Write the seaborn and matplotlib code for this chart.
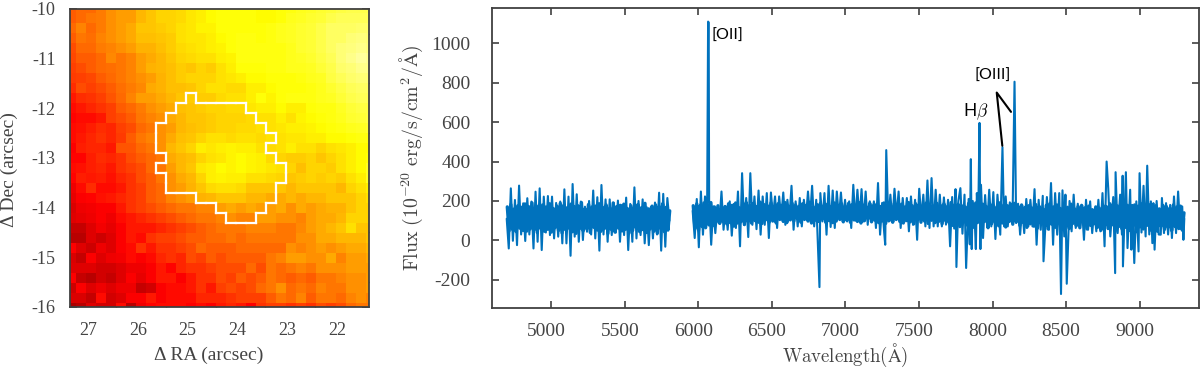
import numpy as np
import pandas as pd
import matplotlib
matplotlib.use('Agg')
import matplotlib.pyplot as plt
import matplotlib.transforms as mtrans
import seaborn as sns

sns.set_style('white')
plt.rcParams['font.family'] = ['Liberation Serif', 'DejaVu Serif']
plt.rcParams['mathtext.fontset'] = 'cm'
plt.rcParams['axes.unicode_minus'] = False

# image values read by eye from the colours (hot colormap, 0-100)
image_rows = [
    [50,52,52,55,58,60,60,64,66,68,68,69,71,72,74,75,75,75,75,74,74,75,76,77,78,79,80,81,82,82,82],
    [50,52,54,55,58,60,60,64,66,68,68,69,71,72,74,75,75,75,75,74,74,75,77,78,79,80,82,83,83,83,83],
    [52,56,52,55,58,60,62,66,66,67,68,70,71,73,73,75,75,75,75,75,76,77,78,79,80,82,84,84,84,85,85],
    [50,54,53,56,58,60,62,65,65,66,67,70,71,71,72,74,75,76,76,75,76,77,78,79,80,82,84,84,86,87,86],
    [48,52,52,55,56,58,60,63,63,65,67,69,70,71,72,73,75,76,76,76,76,76,77,79,80,82,84,86,87,88,87],
    [47,50,50,52,57,54,56,60,62,64,66,68,69,70,70,72,73,76,76,76,76,76,77,78,79,81,83,86,88,90,89],
    [46,48,50,52,53,54,56,60,63,64,65,67,66,68,67,70,72,75,75,75,76,76,77,77,78,80,82,85,86,88,88],
    [45,46,47,50,52,54,56,58,60,63,65,67,68,68,68,70,71,72,74,74,75,75,75,76,77,78,81,83,85,86,86],
    [43,48,46,48,50,53,55,57,62,63,65,65,66,68,70,70,69,69,72,72,74,75,75,75,76,77,79,81,83,84,84],
    [40,43,44,46,49,52,56,60,60,62,64,66,67,67,67,69,70,70,72,75,73,75,76,76,76,77,78,80,82,83,83],
    [38,40,42,44,46,50,52,55,58,60,62,65,66,67,68,68,69,69,71,72,72,74,72,72,75,76,76,78,80,81,81],
    [37,38,38,40,46,48,50,54,56,58,62,64,66,66,67,68,68,68,69,70,70,72,70,73,74,75,76,77,79,80,81],
    [38,39,41,43,42,46,48,52,54,58,60,64,65,66,67,68,68,69,69,70,70,71,72,72,73,74,75,76,77,78,79],
    [38,40,42,44,42,45,50,54,56,58,62,65,66,68,70,70,69,70,70,69,70,70,71,71,72,72,74,74,75,76,76],
    [36,41,42,42,40,49,49,52,54,58,64,66,68,72,71,72,73,72,72,70,69,70,72,70,70,68,70,71,72,74,74],
    [37,37,41,43,42,44,48,50,52,54,62,64,65,68,70,71,73,74,73,72,69,68,67,67,68,66,68,70,72,74,75],
    [38,39,41,42,40,44,46,48,52,54,60,64,66,71,72,74,73,74,73,72,71,70,68,65,68,68,67,70,72,74,78],
    [37,41,40,41,39,42,44,48,50,54,58,62,64,68,72,73,72,72,70,70,69,68,66,67,68,67,68,67,70,72,78],
    [34,38,43,38,38,40,44,46,50,52,58,60,63,66,69,70,70,69,66,66,66,66,64,66,66,66,66,64,68,70,72],
    [33,36,37,39,40,42,44,46,50,52,56,58,60,63,64,66,66,66,64,64,62,62,64,62,64,64,66,66,66,68,70],
    [31,34,35,36,36,40,44,46,48,50,52,54,54,56,56,60,62,60,62,60,60,62,58,62,60,62,63,63,66,68,68],
    [32,33,34,36,34,38,40,42,44,46,48,50,52,54,54,56,58,56,56,60,60,58,58,56,60,62,62,64,68,68,68],
    [28,28,32,35,33,36,40,40,40,42,44,46,48,50,52,54,54,54,56,56,56,54,54,57,60,62,64,66,70,66,66],
    [26,26,32,29,32,36,40,38,44,46,46,48,50,50,52,52,54,52,54,54,54,54,54,58,58,62,62,64,64,64,66],
    [36,32,29,34,32,36,38,44,40,44,44,46,48,52,50,50,50,52,52,52,52,52,58,56,58,60,58,60,62,62,64],
    [31,28,36,32,34,35,38,36,38,42,44,42,48,46,50,48,50,50,50,50,54,56,60,60,58,58,62,56,60,60,62],
    [32,32,32,30,30,32,34,34,36,40,37,42,44,44,46,48,48,48,52,48,54,52,54,56,54,58,58,58,60,60,60],
    [36,28,26,30,28,32,36,33,36,40,40,36,40,44,44,48,46,50,48,50,54,52,50,52,50,54,54,56,58,58,60],
    [29,36,32,34,32,34,34,28,30,36,38,38,40,44,40,46,48,46,48,52,54,58,52,54,52,56,54,54,58,58,60],
    [31,31,28,38,30,32,36,36,40,36,38,38,38,42,42,42,44,46,46,46,50,54,52,56,50,54,54,52,56,58,56],
    [24,26,32,30,30,38,26,34,37,38,38,38,36,38,36,40,42,40,36,44,46,46,44,46,44,48,46,48,52,54,54],
]

# extraction region: row -> (first column, last column + 1)
region_spans = {9: (12, 13), 10: (11, 18), 11: (10, 19), 12: (9, 20), 13: (9, 21),
                14: (9, 20), 15: (10, 21), 16: (9, 22), 17: (10, 22), 18: (10, 21),
                19: (13, 21), 20: (15, 20), 21: (16, 19)}

ra_ticks = [27, 26, 25, 24, 23, 22]
dec_ticks = [-10, -11, -12, -13, -14, -15, -16]

# spectrum peaks and dips, blue side of the gap
wave_blue = [
    4697,4711,4725,4739,4753,4767,4781,4795,4809,4823,
    4837,4851,4865,4879,4893,4907,4921,4935,4949,4963,
    4977,4991,5005,5019,5033,5047,5061,5075,5089,5103,
    5117,5131,5145,5159,5173,5187,5201,5215,5229,5243,
    5257,5271,5285,5299,5313,5327,5341,5355,5369,5383,
    5397,5411,5425,5439,5453,5467,5481,5495,5509,5523,
    5537,5551,5565,5579,5593,5607,5621,5635,5649,5663,
    5677,5691,5705,5719,5733,5747,5761,5775,5789,5803,
]
flux_blue = [
    110,-41,264,-2,205,-24,278,30,188,-3,
    214,30,197,-41,247,-7,264,-49,222,40,
    225,27,222,10,190,19,197,-15,259,-15,
    222,-78,286,19,234,-7,197,2,171,44,
    200,30,253,10,219,-52,281,30,208,-7,
    208,27,190,40,202,-7,180,27,217,-49,
    185,-7,269,10,200,27,208,-15,168,-24,
    170,10,192,30,242,-52,236,-32,215,100,
]

# spectrum peaks and dips, red side of the gap
wave_red = [
    5961,5975,5989,6003,6017,6031,6045,6059,6066,6070,
    6073,6087,6101,6115,6129,6143,6157,6171,6185,6199,
    6213,6227,6241,6255,6269,6283,6297,6311,6325,6339,
    6353,6367,6381,6395,6409,6423,6437,6451,6465,6479,
    6493,6507,6521,6535,6549,6563,6577,6591,6605,6619,
    6633,6647,6661,6675,6689,6703,6717,6731,6745,6759,
    6773,6787,6801,6823,6829,6843,6857,6871,6885,6899,
    6913,6927,6941,6955,6969,6983,6997,7011,7025,7039,
    7053,7067,7081,7095,7109,7123,7137,7151,7165,7179,
    7193,7207,7221,7235,7249,7263,7270,7277,7291,7305,
    7319,7333,7347,7361,7375,7389,7403,7417,7431,7445,
    7459,7473,7487,7501,7515,7529,7543,7557,7571,7585,
    7599,7613,7627,7641,7655,7669,7683,7697,7711,7725,
    7739,7748,7754,7767,7781,7795,7809,7820,7837,7845,
    7852,7858,7865,7879,7886,7893,7902,7911,7917,7921,
    7935,7949,7963,7977,7991,8005,8019,8033,8052,8067,
    8078,8089,8103,8117,8135,8149,8160,8173,8187,8201,
    8215,8229,8243,8257,8271,8285,8299,8313,8327,8341,
    8346,8369,8383,8397,8411,8425,8439,8453,8465,8475,
    8487,8495,8504,8523,8537,8551,8565,8579,8593,8607,
    8621,8635,8649,8663,8677,8691,8705,8719,8733,8747,
    8761,8775,8786,8800,8820,8833,8836,8850,8867,8879,
    8884,8886,8906,8917,8935,8943,8950,8963,8977,8992,
    8999,9012,9026,9040,9051,9065,9076,9086,9093,9101,
    9115,9129,9143,9151,9165,9179,9193,9207,9219,9233,
    9247,9261,9275,9289,9297,9303,
]
flux_red = [
    150,12,210,-35,248,29,223,96,1110,1105,
    206,-22,172,37,164,88,248,54,172,54,
    198,24,185,63,248,-30,341,79,215,17,
    341,79,223,57,253,29,223,79,240,12,
    243,122,223,63,223,113,243,79,206,113,
    277,54,198,71,215,71,206,113,248,113,
    277,71,206,-237,240,96,240,29,277,68,
    253,63,248,113,243,105,206,96,198,63,
    282,100,257,100,260,96,248,79,198,130,
    198,63,291,29,190,40,-22,458,96,232,
    96,262,120,248,63,215,96,215,46,223,
    79,206,3,262,113,232,71,304,63,316,
    71,257,71,232,71,218,80,206,-30,220,
    60,260,-135,200,265,34,232,-140,210,-20,
    412,-44,200,90,-44,240,100,596,-44,282,
    12,230,71,257,71,245,7,232,29,473,
    71,223,71,193,88,805,88,186,29,169,
    37,210,71,206,71,260,-22,206,54,226,
    -106,220,54,291,-22,240,29,240,-272,254,
    20,232,-220,200,46,232,63,186,63,172,
    3,206,54,198,37,155,46,206,46,240,
    -30,400,265,20,220,-166,346,37,232,30,
    328,-132,346,-39,257,-47,180,-115,198,-56,
    341,40,277,20,379,30,198,-14,189,-47,
    200,30,29,215,37,189,30,180,12,223,
    37,248,60,172,3,110,
]

# solid core of the band, read as top and bottom of the filled part
core_wave_blue = [
    4701,4713,4725,4737,4749,4761,4773,4785,4797,4809,
    4821,4833,4845,4857,4869,4881,4893,4905,4917,4929,
    4941,4953,4965,4977,4989,5001,5013,5025,5037,5049,
    5061,5073,5085,5097,5109,5121,5133,5145,5157,5169,
    5181,5193,5205,5217,5229,5241,5253,5265,5277,5289,
    5301,5313,5325,5337,5349,5361,5373,5385,5397,5409,
    5421,5433,5445,5457,5469,5481,5493,5505,5517,5529,
    5541,5553,5565,5577,5589,5601,5613,5625,5637,5649,
    5661,5673,5685,5697,5709,5721,5733,5745,5757,5769,
    5781,5793,5805,
]
core_flux_blue = [
    170,48,182,55,160,44,176,62,168,50,
    185,47,172,58,190,52,165,40,178,60,
    180,46,170,56,186,42,162,64,175,50,
    188,38,178,54,166,62,184,44,172,36,
    176,60,192,48,160,58,182,40,170,66,
    174,52,186,46,168,60,180,35,164,55,
    190,42,172,62,178,48,184,56,162,38,
    176,50,170,64,182,44,166,54,188,40,
    160,58,174,46,180,36,172,60,186,44,
    168,52,150,
]
core_wave_red = [
    5965,5977,5989,6001,6013,6025,6037,6049,6061,6073,
    6085,6097,6109,6121,6133,6145,6157,6169,6181,6193,
    6205,6217,6229,6241,6253,6265,6277,6289,6301,6313,
    6325,6337,6349,6361,6373,6385,6397,6409,6421,6433,
    6445,6457,6469,6481,6493,6505,6517,6529,6541,6553,
    6565,6577,6589,6601,6613,6625,6637,6649,6661,6673,
    6685,6697,6709,6721,6733,6745,6757,6769,6781,6793,
    6805,6817,6829,6841,6853,6865,6877,6889,6901,6913,
    6925,6937,6949,6961,6973,6985,6997,7009,7021,7033,
    7045,7057,7069,7081,7093,7105,7117,7129,7141,7153,
    7165,7177,7189,7201,7213,7225,7237,7249,7261,7273,
    7285,7297,7309,7321,7333,7345,7357,7369,7381,7393,
    7405,7417,7429,7441,7453,7465,7477,7489,7501,7513,
    7525,7537,7549,7561,7573,7585,7597,7609,7621,7633,
    7645,7657,7669,7681,7693,7705,7717,7729,7741,7753,
    7765,7777,7789,7801,7813,7825,7837,7849,7861,7873,
    7885,7897,7909,7921,7933,7945,7957,7969,7981,7993,
    8005,8017,8029,8041,8053,8065,8077,8089,8101,8113,
    8125,8137,8149,8161,8173,8185,8197,8209,8221,8233,
    8245,8257,8269,8281,8293,8305,8317,8329,8341,8353,
    8365,8377,8389,8401,8413,8425,8437,8449,8461,8473,
    8485,8497,8509,8521,8533,8545,8557,8569,8581,8593,
    8605,8617,8629,8641,8653,8665,8677,8689,8701,8713,
    8725,8737,8749,8761,8773,8785,8797,8809,8821,8833,
    8845,8857,8869,8881,8893,8905,8917,8929,8941,8953,
    8965,8977,8989,9001,9013,9025,9037,9049,9061,9073,
    9085,9097,9109,9121,9133,9145,9157,9169,9181,9193,
    9205,9217,9229,9241,9253,9265,9277,9289,9301,
]
core_flux_red = [
    176,60,186,52,178,70,190,64,182,78,
    192,74,170,92,176,86,160,96,172,84,
    186,90,178,72,190,88,166,94,184,80,
    192,96,178,88,188,100,172,92,194,86,
    182,104,176,92,190,98,170,88,186,106,
    178,96,192,90,174,104,188,98,180,110,
    172,92,186,106,178,98,194,88,170,102,
    182,96,188,108,176,92,184,100,172,90,
    190,98,178,106,186,94,174,102,188,92,
    182,104,176,96,192,88,180,100,170,110,
    188,94,176,102,184,90,172,98,190,86,
    180,100,174,92,188,106,178,96,184,88,
    170,100,192,94,176,84,186,104,180,92,
    172,98,190,86,182,102,174,90,188,96,
    178,84,186,100,172,88,192,76,180,94,
    184,70,176,92,170,78,188,86,174,66,
    190,90,178,72,184,96,172,64,186,84,
    178,92,170,74,192,88,180,68,176,96,
    184,82,188,94,172,76,180,90,168,66,
    176,84,164,72,182,62,172,88,160,70,
    178,58,186,82,170,66,180,90,162,56,
    176,72,168,60,184,86,160,74,172,64,
    178,90,166,58,174,76,156,84,170,66,
    164,52,180,74,172,60,186,78,168,48,
    176,70,184,56,166,66,178,50,162,74,
    180,44,174,68,186,58,170,76,182,52,
    168,62,176,46,160,72,178,56,172,66,
    164,50,180,70,170,60,174,52,140,
]

x_ticks = [5000, 5500, 6000, 6500, 7000, 7500, 8000, 8500, 9000]
y_ticks = [-200, 0, 200, 400, 600, 800, 1000]

text_col = '#444444'
line_col = '#0072BD'

fig = plt.figure(figsize=(12, 3.69), dpi=100)
ax1 = fig.add_axes([70/1200, 1-307/369, 299/1200, 298/369])
ax2 = fig.add_axes([492/1200, 1-308/369, 707/1200, 300/369])

# left panel
image = pd.DataFrame(image_rows)
sns.heatmap(image, cmap='hot', vmin=0, vmax=100, cbar=False, ax=ax1,
            xticklabels=False, yticklabels=False, rasterized=True)
ax1.set_xlim(0.4, 30.3)
ax1.set_ylim(30.37, 0.57)

def ra_pos(ra):
    return 2.5 + (27 - ra)*4.98

def dec_pos(dec):
    return 0.57 + (-10 - dec)*4.967

ax1.set_xticks([ra_pos(r) for r in ra_ticks])
ax1.set_xticklabels([str(r) for r in ra_ticks])
ax1.set_yticks([dec_pos(d) for d in dec_ticks])
ax1.set_yticklabels([str(d) for d in dec_ticks])
ax1.set_xticks([ra_pos(r + 0.5) for r in ra_ticks[1:]] + [ra_pos(21.5)], minor=True)
ax1.set_yticks([dec_pos(d - 0.5) for d in dec_ticks[:-1]], minor=True)
ax1.set_xlabel('\u0394 RA (arcsec)', fontsize=14, color=text_col)
ax1.set_ylabel('\u0394 Dec (arcsec)', fontsize=14, color=text_col)
ax1.xaxis.set_label_coords(0.465, -0.134)
ax1.yaxis.set_label_coords(-0.174, 0.46)

# white outline round the region
mask = np.zeros(image.shape, dtype=bool)
for row, (c0, c1) in region_spans.items():
    mask[row, c0:c1] = True
for r in range(mask.shape[0]):
    for c in range(mask.shape[1]):
        if not mask[r, c]:
            continue
        if not mask[r-1, c]:
            ax1.plot([c, c+1], [r, r], color='white', lw=1.6, solid_capstyle='projecting')
        if not mask[r+1, c]:
            ax1.plot([c, c+1], [r+1, r+1], color='white', lw=1.6, solid_capstyle='projecting')
        if not mask[r, c-1]:
            ax1.plot([c, c], [r, r+1], color='white', lw=1.6, solid_capstyle='projecting')
        if not mask[r, c+1]:
            ax1.plot([c+1, c+1], [r, r+1], color='white', lw=1.6, solid_capstyle='projecting')

# right panel
sns.lineplot(x=wave_blue, y=flux_blue, ax=ax2, color=line_col, lw=1.5, estimator=None)
sns.lineplot(x=wave_red, y=flux_red, ax=ax2, color=line_col, lw=1.5, estimator=None)
sns.lineplot(x=core_wave_blue, y=core_flux_blue, ax=ax2, color=line_col, lw=2.4, estimator=None)
sns.lineplot(x=core_wave_red, y=core_flux_red, ax=ax2, color=line_col, lw=2.4, estimator=None)
ax2.set_xlim(4597, 9403)
ax2.set_ylim(-343, 1179)
ax2.set_xticks(x_ticks)
ax2.set_yticks(y_ticks)
ax2.set_xlabel(r'$\mathrm{Wavelength(\AA)}$', fontsize=13.5, color=text_col)
ax2.set_ylabel(r'$\mathrm{Flux}\ (10^{-20}\ \mathrm{erg/s/cm^2/\AA})$', fontsize=14.3, color=text_col)
ax2.xaxis.set_label_coords(0.5, -0.113)
ax2.yaxis.set_label_coords(-0.095, 0.5)

ax2.plot([8066, 8028, 8125], [480, 750, 652], color='black', lw=1.5)
ax2.text(6086, 1037, '[OII]', family='Lato', fontsize=11.5, color='black', va='center')
ax2.text(7880, 835, '[OIII]', family='Lato', fontsize=11.5, color='black', va='center')
ax2.text(7800, 652, r'H$\beta$', family='Lato', fontsize=12.5, color='black', va='center')

for ax, shift, size, xpad, ypad in ((ax1, -3, 13, 11, 10.5), (ax2, -5, 14, 10.5, 15.5)):
    for spine in ax.spines.values():
        spine.set_visible(True)
        spine.set_color('#404040')
        spine.set_linewidth(1.3)
    ax.tick_params(which='major', direction='in', top=True, right=True, bottom=True, left=True,
                   length=5, width=1.1, color='#303030', labelsize=size, labelcolor=text_col)
    ax.tick_params(which='minor', direction='in', top=True, right=True, bottom=True, left=True,
                   length=2.5, width=1.0, color='#303030')
    ax.tick_params(axis='x', which='major', pad=xpad)
    ax.tick_params(axis='y', which='major', pad=ypad)
    offset = mtrans.ScaledTranslation(shift/100, 0, fig.dpi_scale_trans)
    for label in ax.get_xticklabels():
        label.set_transform(label.get_transform() + offset)

fig.savefig('out.png', dpi=100)
